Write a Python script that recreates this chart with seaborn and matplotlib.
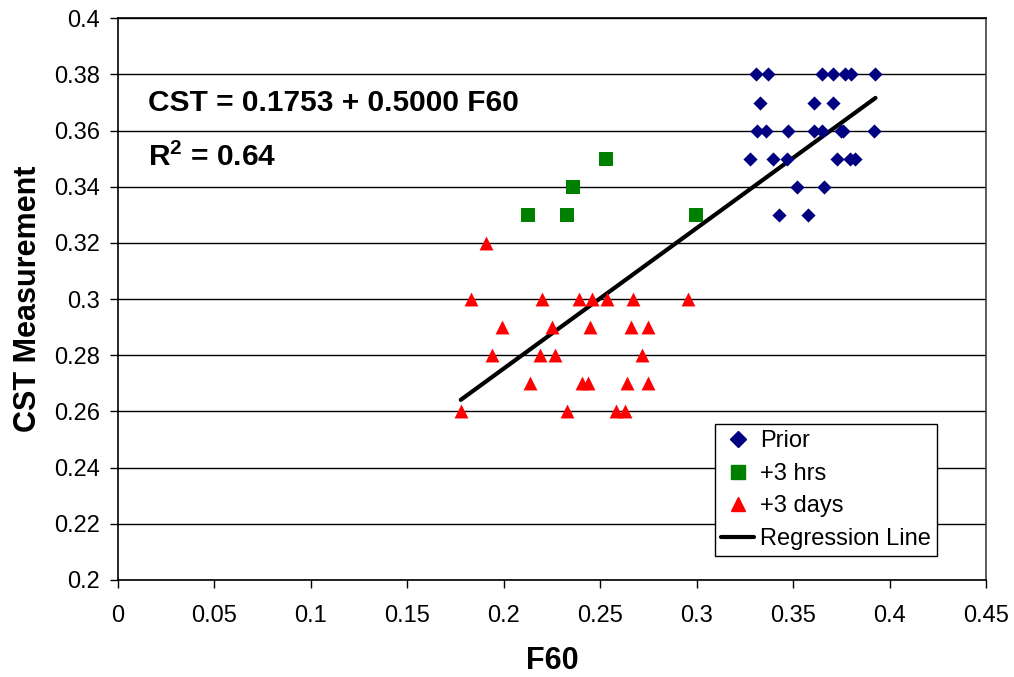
import numpy as np
import pandas as pd
import matplotlib
matplotlib.use("Agg")
import matplotlib.pyplot as plt
import seaborn as sns
from matplotlib.lines import Line2D

# ---- data ----
prior_x = [0.3309, 0.3368, 0.3649, 0.3708, 0.3767, 0.3798, 0.3927,
           0.3328, 0.3608, 0.3708,
           0.3314, 0.3357, 0.3472, 0.3608, 0.3648, 0.3750, 0.3758, 0.3917,
           0.3278, 0.3397, 0.3468, 0.3727, 0.3796, 0.3819,
           0.3518, 0.3658,
           0.3427, 0.3577]
prior_y = [0.38, 0.38, 0.38, 0.38, 0.38, 0.38, 0.38,
           0.37, 0.37, 0.37,
           0.36, 0.36, 0.36, 0.36, 0.36, 0.36, 0.36, 0.36,
           0.35, 0.35, 0.35, 0.35, 0.35, 0.35,
           0.34, 0.34,
           0.33, 0.33]

hrs_x = [0.2128, 0.2328, 0.2359, 0.2528, 0.2998]
hrs_y = [0.33, 0.33, 0.34, 0.35, 0.33]

days_x = [0.1910,
          0.1829, 0.2199, 0.2389, 0.2458, 0.2537, 0.2668, 0.2957,
          0.1990, 0.2250, 0.2449, 0.2658, 0.2748,
          0.1938, 0.2188, 0.2268, 0.2717,
          0.2138, 0.2408, 0.2439, 0.2639, 0.2748,
          0.1777, 0.2328, 0.2584, 0.2629]
days_y = [0.32,
          0.30, 0.30, 0.30, 0.30, 0.30, 0.30, 0.30,
          0.29, 0.29, 0.29, 0.29, 0.29,
          0.28, 0.28, 0.28, 0.28,
          0.27, 0.27, 0.27, 0.27, 0.27,
          0.26, 0.26, 0.26, 0.26]

intercept = 0.1753
slope = 0.5000
r_squared = 0.64

series_names = ["Prior", "+3 hrs", "+3 days"]
line_name = "Regression Line"

x_ticks = [0, 0.05, 0.1, 0.15, 0.2, 0.25, 0.3, 0.35, 0.4, 0.45]
x_tick_labels = ["0", "0.05", "0.1", "0.15", "0.2", "0.25", "0.3", "0.35", "0.4", "0.45"]
y_ticks = [0.2, 0.22, 0.24, 0.26, 0.28, 0.3, 0.32, 0.34, 0.36, 0.38, 0.4]
y_tick_labels = ["0.2", "0.22", "0.24", "0.26", "0.28", "0.3", "0.32", "0.34", "0.36", "0.38", "0.4"]

# ---- style ----
sns.set_theme(style="white")
plt.rcParams["font.family"] = ["Liberation Sans", "DejaVu Sans"]
plt.rcParams["text.color"] = "black"
plt.rcParams["axes.labelcolor"] = "black"
plt.rcParams["mathtext.fontset"] = "custom"
plt.rcParams["mathtext.rm"] = "Liberation Sans:bold"
plt.rcParams["mathtext.it"] = "Liberation Sans:bold"
plt.rcParams["mathtext.bf"] = "Liberation Sans:bold"

df = pd.concat([
    pd.DataFrame({"F60": prior_x, "CST": prior_y, "Group": series_names[0]}),
    pd.DataFrame({"F60": hrs_x, "CST": hrs_y, "Group": series_names[1]}),
    pd.DataFrame({"F60": days_x, "CST": days_y, "Group": series_names[2]}),
], ignore_index=True)

colors = {"Prior": "#000080", "+3 hrs": "#008000", "+3 days": "#FF0000"}
markers = {"Prior": "D", "+3 hrs": "s", "+3 days": "^"}
sizes = {"Prior": 52, "+3 hrs": 92, "+3 days": 100}

fig = plt.figure(figsize=(10.14, 6.77), dpi=100)
ax = fig.add_axes([0.1164, 0.1433, 0.856, 0.8297])

# regression line
xs_all = df["F60"]
line_df = pd.DataFrame({"F60": [xs_all.min(), xs_all.max()]})
line_df["CST"] = intercept + slope * line_df["F60"]
sns.lineplot(data=line_df, x="F60", y="CST", ax=ax, color="black", linewidth=3,
             solid_capstyle="round", zorder=3, legend=False)

for name in series_names:
    sub = df[df["Group"] == name]
    sns.scatterplot(data=sub, x="F60", y="CST", ax=ax, color=colors[name],
                    marker=markers[name], s=sizes[name], linewidth=0, zorder=4,
                    legend=False)

ax.set_xlim(0, 0.45)
ax.set_ylim(0.2, 0.4)
ax.set_xticks(x_ticks)
ax.set_xticklabels(x_tick_labels)
ax.set_yticks(y_ticks)
ax.set_yticklabels(y_tick_labels)
ax.tick_params(axis="both", which="major", labelsize=17, direction="out",
               length=6, width=1, color="black", labelcolor="black")
ax.tick_params(axis="x", pad=12)
ax.tick_params(axis="y", pad=7)
ax.xaxis.set_ticks_position("bottom")
ax.yaxis.set_ticks_position("left")

ax.grid(axis="y", color="black", linewidth=1)
ax.grid(axis="x", visible=False)
ax.set_axisbelow(True)
for sp in ax.spines.values():
    sp.set_color("black")
    sp.set_linewidth(1.2)
ax.spines["right"].set_color("#404040")

ax.set_xlabel("F60", fontsize=22, fontweight="bold", color="black")
ax.set_ylabel("CST Measurement", fontsize=22, fontweight="bold", color="black")
ax.xaxis.set_label_coords(0.5, -0.118)
ax.yaxis.set_label_coords(-0.086, 0.5)

ax.text(0.0155, 0.370, f"CST = {intercept:.4f} + {slope:.4f} F60", fontsize=21.5,
        fontweight="bold", va="center", ha="left", color="black")
ax.text(0.0155, 0.3505, f"R$^2$ = {r_squared:.2f}", fontsize=21.5,
        fontweight="bold", va="center", ha="left", color="black")

handles = [Line2D([], [], linestyle="none", marker=markers[n], color=colors[n],
                  markersize={"Prior": 8, "+3 hrs": 9.5, "+3 days": 10}[n]) for n in series_names]
handles.append(Line2D([], [], color="black", linewidth=3))
leg = ax.legend(handles, series_names + [line_name], loc="lower left",
                bbox_to_anchor=(0.688, 0.0427), borderaxespad=0, fontsize=17,
                frameon=True, fancybox=False, edgecolor="black", framealpha=1,
                handlelength=1.4, handletextpad=0.25, labelspacing=0.45,
                borderpad=0.25)
leg.get_frame().set_linewidth(1)
for t in leg.get_texts():
    t.set_color("black")

fig.savefig("out.png", dpi=100)
